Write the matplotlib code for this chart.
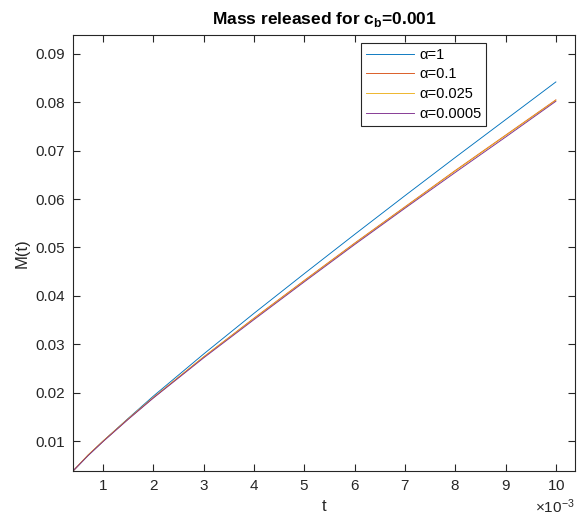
import numpy as np
import matplotlib.pyplot as plt
from matplotlib.ticker import ScalarFormatter

plt.rcParams['font.family'] = ['Liberation Sans', 'DejaVu Sans']
plt.rcParams['mathtext.fontset'] = 'custom'
plt.rcParams['mathtext.rm'] = 'Liberation Sans'
plt.rcParams['mathtext.bf'] = 'Liberation Sans:bold'

# time (s) and mass released for each alpha
t = np.array([0.4, 0.7, 1, 1.5, 2, 3, 4, 5, 6, 7, 8, 9, 10]) * 1e-3
m_a1 = [0.0038, 0.0070, 0.0100, 0.0147, 0.0193, 0.0280, 0.0364, 0.0446, 0.0527, 0.0607, 0.0686, 0.0764, 0.0842]
m_a01 = [0.0038, 0.0071, 0.0100, 0.0146, 0.0190, 0.0274, 0.0354, 0.0432, 0.0509, 0.0584, 0.0659, 0.0732, 0.0805]
m_a0025 = [0.0038, 0.0071, 0.0100, 0.0146, 0.0190, 0.0274, 0.0353, 0.0431, 0.0508, 0.0583, 0.0658, 0.0731, 0.0804]
m_a00005 = [0.0038, 0.0070, 0.0099, 0.0145, 0.0189, 0.0272, 0.0351, 0.0429, 0.0506, 0.0581, 0.0655, 0.0728, 0.0802]
labels = ['α=1', 'α=0.1', 'α=0.025', 'α=0.0005']
colors = ['#0072BD', '#D95319', '#EDB120', '#7E2F8E']

fig = plt.figure(figsize=(5.77, 5.24), dpi=100)
ax = fig.add_axes([0.1265, 0.1011, 0.8700, 0.8321])

for m, lab, c in zip([m_a1, m_a01, m_a0025, m_a00005], labels, colors):
    ax.plot(t, m, color=c, lw=0.65, label=lab)

ax.set_xlim(0.4e-3, 10.38e-3)
ax.set_ylim(0.0038, 0.0939)
ax.set_xticks(np.arange(1, 11) * 1e-3)
ax.set_yticks(np.arange(0.01, 0.0901, 0.01))

fmt = ScalarFormatter(useMathText=True)
fmt.set_powerlimits((-3, -3))
ax.xaxis.set_major_formatter(fmt)

gray = '#262626'
for s in ax.spines.values():
    s.set_color(gray)
    s.set_linewidth(0.8)
ax.tick_params(direction='in', length=5, width=0.8, top=True, right=True,
               colors=gray, labelsize=11, pad=6)
ax.xaxis.get_offset_text().set_fontsize(11)
ax.xaxis.get_offset_text().set_color(gray)

ax.set_xlabel('t', fontsize=12, color=gray)
ax.set_ylabel('M(t)', fontsize=12, color=gray)
ax.set_title(r'Mass released for c$_\mathbf{b}$=0.001', fontsize=12.5, fontweight='bold', pad=8)

leg = ax.legend(loc='upper left', bbox_to_anchor=(0.574, 0.981), borderaxespad=0,
                fontsize=10.5, handlelength=3.3, labelspacing=0.4, fancybox=False,
                framealpha=1, edgecolor=gray, handletextpad=0.4, borderpad=0.3)
leg.get_frame().set_linewidth(0.8)

fig.savefig('out.png', dpi=100)
